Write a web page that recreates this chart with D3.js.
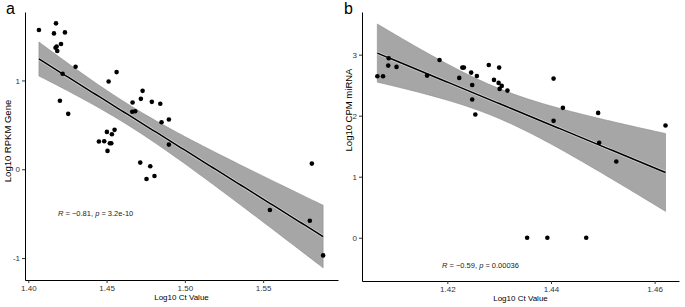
<!DOCTYPE html>
<html>
<head>
<meta charset="utf-8">
<script src="https://cdn.jsdelivr.net/npm/d3@7"></script>
<style>
  body { margin: 0; background: #fff; }
  svg text { font-family: "Liberation Sans", Arial, sans-serif; }
</style>
</head>
<body>
<svg id="chart" width="685" height="307"></svg>
<script>
// Panel a: Log10 Ct value vs Log10 RPKM gene
const ctA = [1.4068, 1.4177, 1.4164, 1.4234, 1.4174, 1.4181, 1.4185, 1.4209, 1.4219, 1.4302,
  1.4202, 1.4255, 1.4564, 1.4513, 1.4451, 1.4485, 1.4502, 1.4534, 1.4551, 1.4521,
  1.4530, 1.4506, 1.4666, 1.4664, 1.4683, 1.4730, 1.4719, 1.4789, 1.4843, 1.4851,
  1.4898, 1.4898, 1.4715, 1.4779, 1.4755, 1.4806, 1.5543, 1.5811, 1.5798, 1.5883];
const rpkmA = [1.568, 1.643, 1.530, 1.541, 1.368, 1.383, 1.331, 1.410, 1.075, 1.154,
  0.771, 0.624, 1.094, 0.989, 0.312, 0.316, 0.421, 0.395, 0.444, 0.293,
  0.293, 0.207, 0.752, 0.647, 0.654, 0.883, 0.793, 0.759, 0.737, 0.530,
  0.560, 0.278, 0.075, 0.034, -0.109, -0.075, -0.459, 0.064, -0.579, -0.970];

// Panel b: Log10 Ct value vs Log10 CPM miRNA
const ctB = [1.4065, 1.4076, 1.4086, 1.4087, 1.4102, 1.4161, 1.4185, 1.4223, 1.4229, 1.4232,
  1.4246, 1.4248, 1.4248, 1.4254, 1.4257, 1.4280, 1.4290, 1.4300, 1.4299, 1.4301,
  1.4305, 1.4316, 1.4405, 1.4423, 1.4405, 1.4491, 1.4493, 1.4526, 1.4621, 1.4354,
  1.4393, 1.4468];
const cpmB = [2.646, 2.646, 2.821, 2.941, 2.799, 2.657, 2.913, 2.619, 2.788, 2.788,
  2.706, 2.504, 2.264, 2.019, 2.651, 2.831, 2.586, 2.788, 2.537, 2.439,
  2.488, 2.411, 2.608, 2.128, 1.915, 2.046, 1.555, 1.249, 1.839, 0,
  0, 0];

const xTicksA = [1.40, 1.45, 1.50, 1.55];
const yTicksA = [-1, 0, 1];
const xTicksB = [1.42, 1.44, 1.46];
const yTicksB = [0, 1, 2, 3];

const statsA = "R = \u22120.81, p = 3.2e-10";
const statsB = "R = \u22120.59, p = 0.00036";

const svg = d3.select("#chart");

// ordinary least squares with a 95% confidence band for the mean
function fitLine(xs, ys) {
    const n = xs.length;
    const mx = d3.mean(xs), my = d3.mean(ys);
    const sxx = d3.sum(xs, (x) => (x - mx) ** 2);
    const sxy = d3.sum(xs, (x, i) => (x - mx) * (ys[i] - my));
    const slope = sxy / sxx;
    const icpt = my - slope * mx;
    const sse = d3.sum(xs, (x, i) => (ys[i] - icpt - slope * x) ** 2);
    const s = Math.sqrt(sse / (n - 2));
    const df = n - 2, z = 1.959964;
    const t = z + (z ** 3 + z) / (4 * df) + (5 * z ** 5 + 16 * z ** 3 + 3 * z) / (96 * df * df);
    const [x0, x1] = d3.extent(xs);
    return d3.range(0, 81).map((k) => {
        const x = x0 + (x1 - x0) * k / 80;
        const fit = icpt + slope * x;
        const se = s * Math.sqrt(1 / n + (x - mx) ** 2 / sxx);
        return { x, fit, lo: fit - t * se, hi: fit + t * se };
    });
}

function drawPanel(cfg) {
    const g = svg.append("g");
    const x = d3.scaleLinear().domain(cfg.xDomain).range([cfg.left, cfg.right]);
    const y = d3.scaleLinear().domain(cfg.yDomain).range([cfg.bottom, cfg.top]);
    const band = fitLine(cfg.xs, cfg.ys);

    g.append("path")
        .datum(band)
        .attr("fill", "#a6a6a6")
        .attr("stroke", "#8c8c8c")
        .attr("stroke-width", 0.6)
        .attr("d", d3.area().x((d) => x(d.x)).y0((d) => y(d.lo)).y1((d) => y(d.hi)));

    g.append("path")
        .datum(band)
        .attr("fill", "none")
        .attr("stroke", "#fff")
        .attr("stroke-width", 3)
        .attr("stroke-opacity", 0.5)
        .attr("d", d3.line().x((d) => x(d.x)).y((d) => y(d.fit)));

    g.append("path")
        .datum(band)
        .attr("fill", "none")
        .attr("stroke", "#000")
        .attr("stroke-width", 1.5)
        .attr("d", d3.line().x((d) => x(d.x)).y((d) => y(d.fit)));

    g.selectAll("circle.pt")
        .data(cfg.xs.map((v, i) => [v, cfg.ys[i]]))
        .join("circle")
        .attr("class", "pt")
        .attr("cx", (d) => x(d[0]))
        .attr("cy", (d) => y(d[1]))
        .attr("r", 2.3)
        .attr("fill", "#000");

    const xAxis = g.append("g")
        .attr("transform", `translate(0,${cfg.bottom})`)
        .call(d3.axisBottom(x).tickValues(cfg.xTicks).tickFormat(d3.format(".2f"))
            .tickSize(3).tickPadding(2).tickSizeOuter(0));
    const yAxis = g.append("g")
        .attr("transform", `translate(${cfg.left},0)`)
        .call(d3.axisLeft(y).tickValues(cfg.yTicks).tickFormat((d) => d)
            .tickSize(3).tickPadding(2).tickSizeOuter(0));

    [xAxis, yAxis].forEach((ax) => {
        ax.select(".domain").attr("stroke", "#000").attr("stroke-width", 1);
        ax.selectAll(".tick line").attr("stroke", "#333");
        ax.selectAll(".tick text").attr("fill", "#333").style("font-size", "8px");
    });

    g.append("text")
        .attr("x", (cfg.left + cfg.right) / 2)
        .attr("y", cfg.bottom + 20)
        .attr("text-anchor", "middle")
        .style("font-size", "8px")
        .text("Log10 Ct Value");

    g.append("text")
        .attr("transform", `translate(${cfg.yLabelX},${cfg.yLabelY}) rotate(-90)`)
        .attr("text-anchor", "middle")
        .style("font-size", "9.5px")
        .text(cfg.yLabel);

    g.append("text")
        .attr("x", cfg.letterX)
        .attr("y", 14)
        .style("font-size", "16px")
        .text(cfg.letter);

    // R / p annotation with italic symbols
    const parts = cfg.stats.split(/(R|p)(?= =)/);
    const st = g.append("text")
        .attr("x", cfg.statX)
        .attr("y", cfg.statY)
        .attr("fill", "#222")
        .style("font-size", "7.5px");
    parts.forEach((p) => {
        if (!p) return;
        st.append("tspan")
            .style("font-style", p === "R" || p === "p" ? "italic" : "normal")
            .text(p);
    });
}

drawPanel({
    letter: "a", letterX: 6, xs: ctA, ys: rpkmA,
    xDomain: [1.3979, 1.5978], yDomain: [-1.247, 1.771],
    left: 25, right: 338, top: 12, bottom: 280,
    xTicks: xTicksA, yTicks: yTicksA,
    yLabel: "Log10 RPKM Gene", yLabelX: 10.5, yLabelY: 141,
    stats: statsA, statX: 58, statY: 216
});

drawPanel({
    letter: "b", letterX: 344, xs: ctB, ys: cpmB,
    xDomain: [1.40354, 1.4647], yDomain: [-0.709, 3.699],
    left: 362, right: 679, top: 12, bottom: 281,
    xTicks: xTicksB, yTicks: yTicksB,
    yLabel: "Log10 CPM miRNA", yLabelX: 352, yLabelY: 110,
    stats: statsB, statX: 442, statY: 268
});
</script>
</body>
</html>
